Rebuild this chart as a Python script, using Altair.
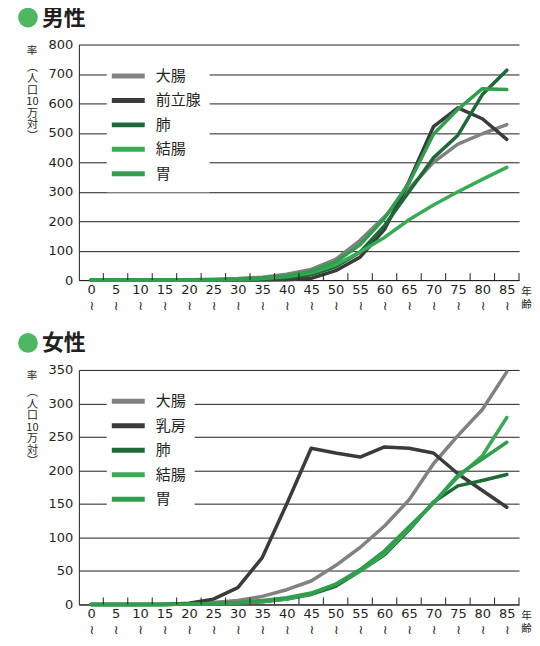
import altair as alt
import pandas as pd

# age groups (years) and the band edges where the axis ticks sit
ages = [0, 5, 10, 15, 20, 25, 30, 35, 40, 45, 50, 55, 60, 65, 70, 75, 80, 85]
tick_edges = [2.5, 7.5, 12.5, 17.5, 22.5, 27.5, 32.5, 37.5, 42.5,
              47.5, 52.5, 57.5, 62.5, 67.5, 72.5, 77.5, 82.5, 87.5]

# male rates (per 100,000)
male_sites = ["大腸", "前立腺", "肺", "結腸", "胃"]
male_daicho = [0, 0, 0, 0.5, 1, 3, 5, 10, 20, 36, 70, 135, 215, 310, 400, 462, 497, 528]
male_zenritsusen = [0, 0, 0, 0, 0, 0, 0, 0, 1, 6, 32, 78, 172, 335, 521, 585, 548, 478]
male_hai = [0, 0, 0, 0, 0, 0.5, 1, 3, 8, 18, 45, 95, 185, 300, 415, 492, 630, 713]
male_ketcho = [0, 0, 0, 0, 0.5, 1, 2, 5, 12, 25, 52, 95, 145, 205, 255, 300, 342, 383]
male_i = [0, 0, 0, 0, 0.5, 1, 3, 7, 15, 30, 62, 120, 210, 330, 495, 580, 650, 647]
male_ticks = [0, 100, 200, 300, 400, 500, 600, 700, 800]

# female rates (per 100,000)
female_sites = ["大腸", "乳房", "肺", "結腸", "胃"]
female_daicho = [0, 0, 0, 0.5, 1, 3, 6, 12, 22, 35, 58, 85, 117, 156, 210, 252, 291, 347]
female_nyubo = [0, 0, 0, 0, 2, 8, 25, 70, 150, 233, 226, 220, 235, 233, 226, 195, 170, 145]
female_hai = [0, 0, 0, 0, 0.5, 1, 2, 4, 8, 15, 27, 50, 74, 111, 153, 177, 185, 194]
female_ketcho = [0, 0, 0, 0, 0.5, 1, 2, 4, 8, 16, 30, 50, 76, 113, 152, 190, 222, 279]
female_i = [0, 0, 0, 0, 0.5, 1, 3, 6, 10, 17, 30, 52, 80, 116, 151, 193, 217, 242]
female_ticks = [0, 50, 100, 150, 200, 250, 300, 350]

site_colors = ["#818181", "#3b3b3b", "#1e6a37", "#3aab55", "#2f9f4d"]

JP = "Noto Sans CJK JP"
NUM = "DejaVu Sans"
INK = "#231f20"
W = 441

x_axis = alt.Axis(
    values=tick_edges, ticks=False, grid=False,
    labelExpr="[format(datum.value - 2.5, 'd'), '≀']",
    labelOffset=-12.25, labelOverlap=False, labelFlush=False, labelBound=False,
    labelFont=NUM, labelFontSize=13, labelColor=INK,
    labelPadding=3, labelLineHeight=16, labelBaseline="top",
    domainColor=INK, domainWidth=1,
    title=["年", "齢"], titleAngle=0, titleAlign="center",
    titleBaseline="top", titleX=W + 7, titleY=6,
    titleFont=JP, titleFontSize=10.5, titleFontWeight="normal",
    titleLineHeight=13, titleColor=INK,
)


def panel(sex, sites, series, y_ticks, h):
    rows = []
    for site, vals in zip(sites, series):
        for a, v in zip(ages, vals):
            rows.append({"age": a, "site": site, "rate": v})
    df = pd.DataFrame(rows)

    x_scale = alt.Scale(domain=[-2.5, 87.5], nice=False, zero=False)
    y_axis = alt.Axis(
        values=y_ticks, ticks=False, grid=True,
        gridColor=INK, gridWidth=1, domainColor=INK, domainWidth=1,
        labelFont=NUM, labelFontSize=13, labelColor=INK, labelPadding=6,
        title=["︵", "人", "口", "10", "万", "対", "︶"],
        titleAngle=0, titleAlign="center", titleBaseline="top",
        titleX=-47, titleY=17, titleFont=JP, titleFontSize=11,
        titleFontWeight="normal", titleLineHeight=11.5, titleColor=INK,
    )
    legend = alt.Legend(
        title=None, orient="none", legendX=28, legendY=10,
        fillColor="white", padding=8,
        symbolType="M-1.5,0H1.5", symbolSize=484, symbolStrokeWidth=5,
        labelFont=JP, labelFontSize=15, labelColor=INK, labelOffset=14,
        rowPadding=0.5,
    )

    lines = alt.Chart(df).mark_line(
        strokeWidth=3.5, strokeCap="round", strokeJoin="round"
    ).encode(
        x=alt.X("age:Q", scale=x_scale, axis=x_axis),
        y=alt.Y("rate:Q", scale=alt.Scale(domain=[0, y_ticks[-1]], nice=False), axis=y_axis),
        color=alt.Color("site:N", scale=alt.Scale(domain=sites, range=site_colors), legend=legend),
    )

    ticks = alt.Chart(pd.DataFrame({"age": tick_edges})).mark_rule(
        color=INK, strokeWidth=1
    ).encode(
        x=alt.X("age:Q", scale=x_scale, axis=x_axis),
        y=alt.value(h - 7), y2=alt.value(h),
    )

    one = pd.DataFrame({"k": [0]})
    rate_label = alt.Chart(one).mark_text(
        font=JP, fontSize=10.5, color=INK, baseline="top"
    ).encode(x=alt.value(-47), y=alt.value(1), text=alt.value("率"))
    dot = alt.Chart(one).mark_circle(
        size=390, color="#4db862", opacity=1
    ).encode(x=alt.value(-51), y=alt.value(-27))
    heading = alt.Chart(one).mark_text(
        font=JP, fontSize=22, fontWeight="bold", color=INK,
        align="left", baseline="middle"
    ).encode(x=alt.value(-37), y=alt.value(-26.5), text=alt.value(sex))

    return alt.layer(lines, ticks, rate_label, dot, heading).properties(
        width=W, height=h,
    )


top = panel("男性", male_sites,
            [male_daicho, male_zenritsusen, male_hai, male_ketcho, male_i],
            male_ticks, 236)
bottom = panel("女性", female_sites,
               [female_daicho, female_nyubo, female_hai, female_ketcho, female_i],
               female_ticks, 235)

chart = alt.vconcat(top, bottom, spacing=20).resolve_scale(
    x="independent", y="independent", color="independent"
).properties(
    padding={"left": 10, "top": -2, "right": 0, "bottom": 0}
).configure_view(stroke=None).configure_axisX(labelOverlap=False)

chart.save("out.html", embed_options={"renderer": "svg", "actions": False})
